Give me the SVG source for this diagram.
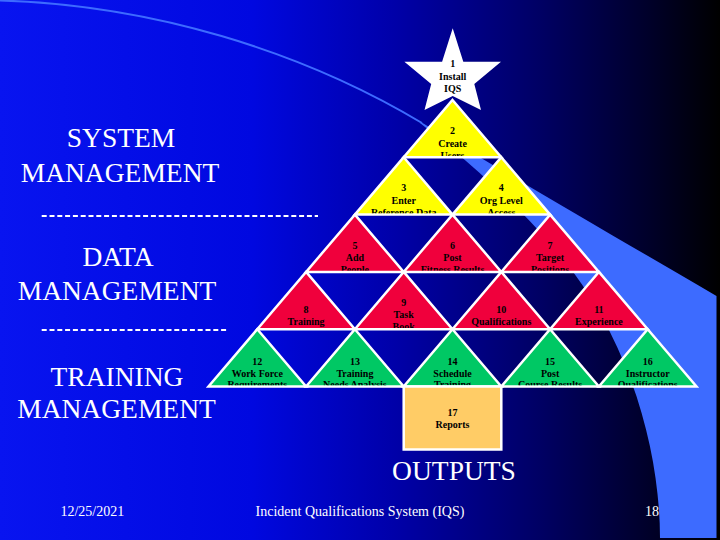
<svg xmlns="http://www.w3.org/2000/svg" width="720" height="540" viewBox="0 0 720 540">
<defs>
<linearGradient id="bg" x1="0" y1="0" x2="1" y2="0">
<stop offset="0" stop-color="#0814F0"/>
<stop offset="0.35" stop-color="#0008E0"/>
<stop offset="0.55" stop-color="#0000A8"/>
<stop offset="0.75" stop-color="#000064"/>
<stop offset="0.9" stop-color="#00002A"/>
<stop offset="1" stop-color="#000000"/>
</linearGradient>
<clipPath id="r1"><rect x="0" y="0" width="720" height="156"/></clipPath>
<clipPath id="r2"><rect x="0" y="0" width="720" height="213.3"/></clipPath>
<clipPath id="r3"><rect x="0" y="0" width="720" height="270.6"/></clipPath>
<clipPath id="r4"><rect x="0" y="0" width="720" height="327.9"/></clipPath>
<clipPath id="r5"><rect x="0" y="0" width="720" height="385.2"/></clipPath>
</defs>
<rect x="0" y="0" width="720" height="540" fill="url(#bg)"/>
<g id="swoosh" fill="#3D6BFF">
<path d="M0,0.5 C150,5 300,50 422,123" fill="none" stroke="#3D6BFF" stroke-width="2"/>
<path d="M420,121.5 C470,152 600,228 716.5,296 L716.5,538 L660,538 C660,450 630,340 560,255 C530,218 480,170 420,123 Z"/>
</g>
<g id="section-labels" font-size="27.5" fill="#FFFFFF" text-anchor="middle">
<text font-family="Liberation Serif" x="121" y="146.7">SYSTEM</text>
<text font-family="Liberation Serif" x="120" y="181.7">MANAGEMENT</text>
<text font-family="Liberation Serif" x="118" y="265.7">DATA</text>
<text font-family="Liberation Serif" x="117" y="300">MANAGEMENT</text>
<text font-family="Liberation Serif" x="117" y="385.7">TRAINING</text>
<text font-family="Liberation Serif" x="116.5" y="418.3">MANAGEMENT</text>
<text font-family="Liberation Serif" x="454" y="480">OUTPUTS</text>
</g>
<g id="dividers" stroke="#FFFFFF" stroke-width="2" stroke-dasharray="5 2.8">
<line x1="41.7" y1="216" x2="318" y2="216"/>
<line x1="41.7" y1="330" x2="228" y2="330"/>
</g>
<g id="footer" font-size="14" fill="#FFFFFF" text-anchor="middle">
<text font-family="Liberation Serif" x="92.3" y="516">12/25/2021</text>
<text font-family="Liberation Serif" x="360" y="516">Incident Qualifications System (IQS)</text>
<text font-family="Liberation Serif" x="652" y="516">18</text>
</g>
<g id="nodes" font-weight="bold" font-size="10" text-anchor="middle" stroke-linejoin="miter">
<g id="n2">
<polygon fill="#FFFF00" stroke="#FFFFFF" stroke-width="2.5" points="452.5,100 501.3,157.3 403.7,157.3"/>
<text font-family="Liberation Serif" fill="#000000" clip-path="url(#r1)"><tspan x="452.5" y="134">2</tspan><tspan x="452.5" y="146.5">Create</tspan><tspan x="452.5" y="158.5">Users</tspan></text>
</g>
<g id="n1">
<polygon points="452.7,28.3 463.3,61.7 501,61.7 474.3,84 481,110 452.7,96 424.5,110 431.2,84 404.4,61.7 442.1,61.7" fill="#FFFFFF"/>
<text font-family="Liberation Serif" fill="#000000"><tspan x="452.7" y="66.5">1</tspan><tspan x="452.7" y="80">Install</tspan><tspan x="452.7" y="92">IQS</tspan></text>
</g>
<g id="n3">
<polygon fill="#FFFF00" stroke="#FFFFFF" stroke-width="2.5" points="403.7,157.3 452.5,214.6 354.9,214.6"/>
<text font-family="Liberation Serif" fill="#000000" clip-path="url(#r2)"><tspan x="403.7" y="191.3">3</tspan><tspan x="403.7" y="203.8">Enter</tspan><tspan x="403.7" y="215.8">Reference Data</tspan></text>
</g>
<g id="n4">
<polygon fill="#FFFF00" stroke="#FFFFFF" stroke-width="2.5" points="501.3,157.3 550.1,214.6 452.5,214.6"/>
<text font-family="Liberation Serif" fill="#000000" clip-path="url(#r2)"><tspan x="501.3" y="191.3">4</tspan><tspan x="501.3" y="203.8">Org Level</tspan><tspan x="501.3" y="215.8">Access</tspan></text>
</g>
<g id="n5">
<polygon fill="#F0003C" stroke="#FFFFFF" stroke-width="2.5" points="354.9,214.6 403.7,271.9 306.1,271.9"/>
<text font-family="Liberation Serif" fill="#000000" clip-path="url(#r3)"><tspan x="354.9" y="248.6">5</tspan><tspan x="354.9" y="261.1">Add</tspan><tspan x="354.9" y="273.1">People</tspan></text>
</g>
<g id="n6">
<polygon fill="#F0003C" stroke="#FFFFFF" stroke-width="2.5" points="452.5,214.6 501.3,271.9 403.7,271.9"/>
<text font-family="Liberation Serif" fill="#000000" clip-path="url(#r3)"><tspan x="452.5" y="248.6">6</tspan><tspan x="452.5" y="261.1">Post</tspan><tspan x="452.5" y="273.1">Fitness Results</tspan></text>
</g>
<g id="n7">
<polygon fill="#F0003C" stroke="#FFFFFF" stroke-width="2.5" points="550.1,214.6 598.9,271.9 501.3,271.9"/>
<text font-family="Liberation Serif" fill="#000000" clip-path="url(#r3)"><tspan x="550.1" y="248.6">7</tspan><tspan x="550.1" y="261.1">Target</tspan><tspan x="550.1" y="273.1">Positions</tspan></text>
</g>
<g id="n8">
<polygon fill="#F0003C" stroke="#FFFFFF" stroke-width="2.5" points="306.1,271.9 354.9,329.2 257.3,329.2"/>
<text font-family="Liberation Serif" fill="#000000" clip-path="url(#r4)"><tspan x="306.1" y="313.4">8</tspan><tspan x="306.1" y="325.4">Training</tspan></text>
</g>
<g id="n9">
<polygon fill="#F0003C" stroke="#FFFFFF" stroke-width="2.5" points="403.7,271.9 452.5,329.2 354.9,329.2"/>
<text font-family="Liberation Serif" fill="#000000" clip-path="url(#r4)"><tspan x="403.7" y="305.9">9</tspan><tspan x="403.7" y="318.4">Task</tspan><tspan x="403.7" y="330.4">Book</tspan></text>
</g>
<g id="n10">
<polygon fill="#F0003C" stroke="#FFFFFF" stroke-width="2.5" points="501.3,271.9 550.1,329.2 452.5,329.2"/>
<text font-family="Liberation Serif" fill="#000000" clip-path="url(#r4)"><tspan x="501.3" y="313.4">10</tspan><tspan x="501.3" y="325.4">Qualifications</tspan></text>
</g>
<g id="n11">
<polygon fill="#F0003C" stroke="#FFFFFF" stroke-width="2.5" points="598.9,271.9 647.7,329.2 550.1,329.2"/>
<text font-family="Liberation Serif" fill="#000000" clip-path="url(#r4)"><tspan x="598.9" y="313.4">11</tspan><tspan x="598.9" y="325.4">Experience</tspan></text>
</g>
<g id="n12">
<polygon fill="#00C864" stroke="#FFFFFF" stroke-width="2.5" points="257.3,329.2 306.1,386.5 208.5,386.5"/>
<text font-family="Liberation Serif" fill="#000000" clip-path="url(#r5)"><tspan x="257.3" y="364.5">12</tspan><tspan x="257.3" y="376.5">Work Force</tspan><tspan x="257.3" y="388">Requirements</tspan></text>
</g>
<g id="n13">
<polygon fill="#00C864" stroke="#FFFFFF" stroke-width="2.5" points="354.9,329.2 403.7,386.5 306.1,386.5"/>
<text font-family="Liberation Serif" fill="#000000" clip-path="url(#r5)"><tspan x="354.9" y="364.5">13</tspan><tspan x="354.9" y="376.5">Training</tspan><tspan x="354.9" y="388">Needs Analysis</tspan></text>
</g>
<g id="n14">
<polygon fill="#00C864" stroke="#FFFFFF" stroke-width="2.5" points="452.5,329.2 501.3,386.5 403.7,386.5"/>
<text font-family="Liberation Serif" fill="#000000" clip-path="url(#r5)"><tspan x="452.5" y="364.5">14</tspan><tspan x="452.5" y="376.5">Schedule</tspan><tspan x="452.5" y="388">Training</tspan></text>
</g>
<g id="n15">
<polygon fill="#00C864" stroke="#FFFFFF" stroke-width="2.5" points="550.1,329.2 598.9,386.5 501.3,386.5"/>
<text font-family="Liberation Serif" fill="#000000" clip-path="url(#r5)"><tspan x="550.1" y="364.5">15</tspan><tspan x="550.1" y="376.5">Post</tspan><tspan x="550.1" y="388">Course Results</tspan></text>
</g>
<g id="n16">
<polygon fill="#00C864" stroke="#FFFFFF" stroke-width="2.5" points="647.7,329.2 696.5,386.5 598.9,386.5"/>
<text font-family="Liberation Serif" fill="#000000" clip-path="url(#r5)"><tspan x="647.7" y="364.5">16</tspan><tspan x="647.7" y="376.5">Instructor</tspan><tspan x="647.7" y="388">Qualifications</tspan></text>
</g>
<g id="n17">
<rect fill="#FFCC66" stroke="#FFFFFF" stroke-width="2.5" x="403.7" y="386.5" width="97.6" height="63"/>
<text font-family="Liberation Serif" fill="#000000"><tspan x="452.5" y="415.5">17</tspan><tspan x="452.5" y="427.5">Reports</tspan></text>
</g>
</g>
</svg>
